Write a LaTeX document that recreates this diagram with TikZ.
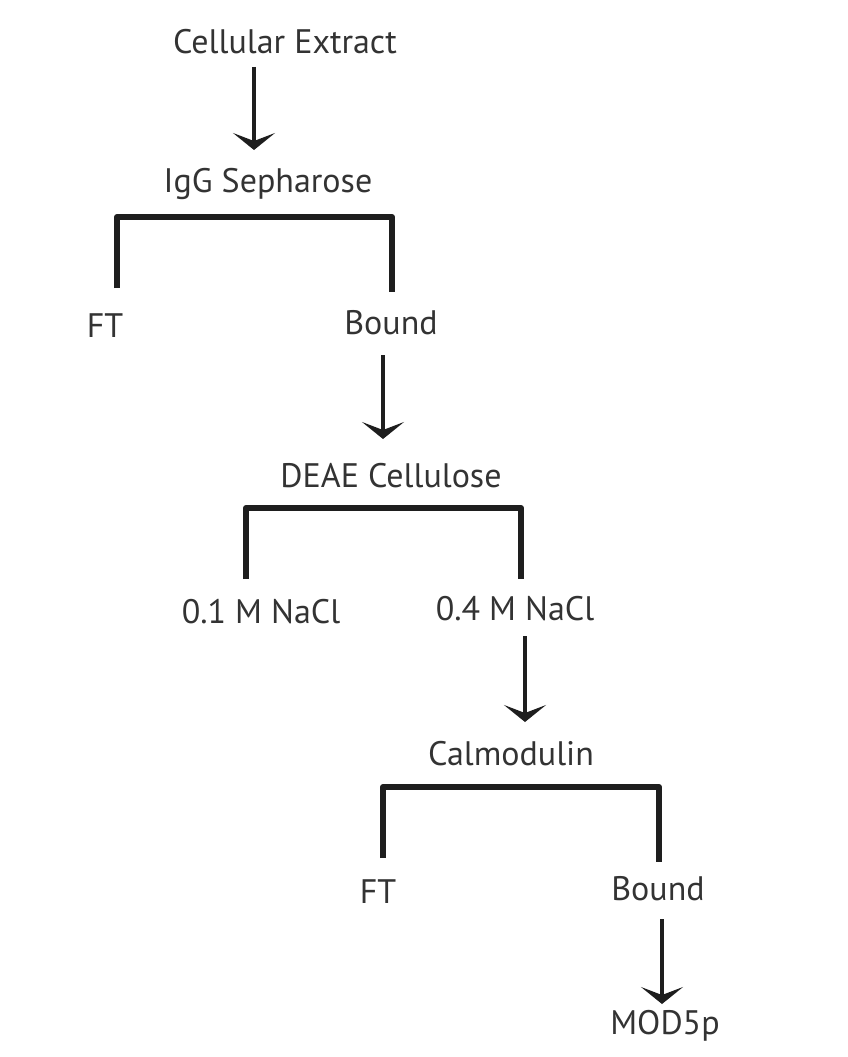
\documentclass[tikz,border=0pt]{standalone}
\usepackage{fontspec}
\setmainfont{PT Sans}
\usetikzlibrary{arrows.meta}
\definecolor{txt}{HTML}{333333}
\definecolor{ln}{HTML}{1E1E1E}
\begin{document}
\begin{tikzpicture}[x=1pt,y=-1pt,
  lbl/.style={inner sep=0pt,text=txt,font=\fontsize{34}{40}\selectfont,anchor=center},
  flow/.style={draw=ln,line width=3.5pt,-{Stealth[length=17pt,width=42pt,inset=8pt]}},
  brk/.style={draw=ln,line width=6pt,line cap=butt,line join=round}]
\useasboundingbox (0,0) rectangle (847,1057);
\node[lbl] (ce) at (285,42) {Cellular Extract};
\node[lbl] (igg) at (268,184) {IgG Sepharose};
\node[lbl] (ft1) at (105,326) {FT};
\node[lbl] (b1) at (391,323) {Bound};
\node[lbl] (deae) at (391,476) {DEAE Cellulose};
\node[lbl] (n1) at (261,612) {0.1 M NaCl};
\node[lbl] (n4) at (515,609) {0.4 M NaCl};
\node[lbl] (cal) at (511,754) {Calmodulin};
\node[lbl] (ft2) at (378,892) {FT};
\node[lbl] (b2) at (658,889) {Bound};
\node[lbl] (mod) at (665,1026) {MOD5p};
% arrows
\coordinate (a1s) at (254,67); \coordinate (a1e) at (254,150);
\draw[flow] (a1s) -- (a1e);
\coordinate (a2s) at (383,355); \coordinate (a2e) at (383,439);
\draw[flow] (a2s) -- (a2e);
\coordinate (a3s) at (525,636); \coordinate (a3e) at (525,722);
\draw[flow] (a3s) -- (a3e);
\coordinate (a4s) at (662,919); \coordinate (a4e) at (662,1004);
\draw[flow] (a4s) -- (a4e);
% brackets
\coordinate (k1l) at (117,288); \coordinate (k1r) at (392,292);
\draw[brk] (k1l) -- (117,217) -- (392,217) -- (k1r);
\coordinate (k2l) at (246,579); \coordinate (k2r) at (521,579);
\draw[brk] (k2l) -- (246,508) -- (521,508) -- (k2r);
\coordinate (k3l) at (383,858); \coordinate (k3r) at (659,862);
\draw[brk] (k3l) -- (383,787) -- (659,787) -- (k3r);
\end{tikzpicture}
\end{document}
